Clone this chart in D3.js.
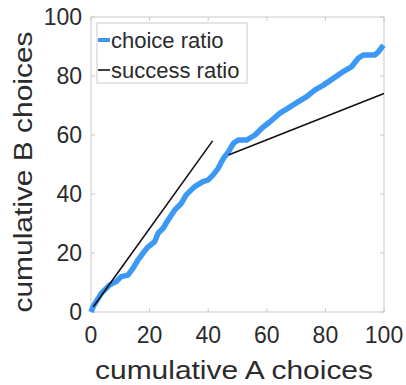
<!DOCTYPE html>
<html>
<head>
<meta charset="utf-8">
<script src="https://cdn.jsdelivr.net/npm/d3@7"></script>
<style>
  html, body { margin: 0; padding: 0; background: #fff; }
  svg { display: block; font-family: "Liberation Sans", Arial, sans-serif; }
</style>
</head>
<body>
<svg id="chart" width="406" height="385"></svg>
<script>
// cumulative A choices / cumulative B choices
const choiceA = [0, 0.7, 3.5, 6.4, 8.6, 10.3, 12.6, 14.3, 16, 17.7, 19.5, 21.7, 22.9, 24.6, 26.3, 28.6,
  30.8, 32.5, 35.4, 38.2, 39.9, 41.6, 43.4, 45.2, 46.9, 48.6, 50.3, 53.1, 56, 58.3, 61.1, 64.5, 67.3,
  70.8, 73.6, 76.5, 79.3, 82.7, 86.1, 89, 91.2, 92.9, 96.9, 98.1, 99.8];
const choiceB = [0, 1.8, 6.3, 9.2, 10.3, 12, 12.5, 14.8, 17.6, 19.9, 22.1, 23.8, 26.7, 28.4, 31.2, 34.6,
  36.8, 39.7, 42.5, 44.2, 44.7, 46.4, 48.7, 52.1, 54.3, 57.2, 58.3, 58.3, 60, 62.3, 64.5, 67.4, 69.1,
  71.3, 73, 75.3, 76.9, 79.2, 81.5, 83.2, 86, 87.1, 87.1, 88.2, 90.5];

// two fitted segments of the success ratio
const successSegments = [
  [[0.8, 1.8], [41.5, 58]],
  [[46.9, 53.2], [100, 74.1]]
];

const xTicks = [0, 20, 40, 60, 80, 100];
const yTicks = [0, 20, 40, 60, 80, 100];
const legendLabels = ["choice ratio", "success ratio"];

const BLUE = "#3b98f5";
const FRAME = "#c9c9c9";
const TEXT = "#2b2b2b";

const M = { left: 91, right: 22, top: 17, bottom: 73 };
const W = 406, H = 385;

const svg = d3.select("#chart");
const x = d3.scaleLinear().domain([0, 100]).range([M.left, W - M.right]);
const y = d3.scaleLinear().domain([0, 100]).range([H - M.bottom, M.top]);

// frame
svg.append("rect")
  .attr("x", x(0)).attr("y", y(100))
  .attr("width", x(100) - x(0)).attr("height", y(0) - y(100))
  .attr("fill", "#fff").attr("stroke", FRAME).attr("stroke-width", 1);

// inward ticks on all four sides
const tickLen = 4;
const tk = svg.append("g").attr("stroke", FRAME).attr("stroke-width", 1);
xTicks.forEach(t => {
  tk.append("line").attr("x1", x(t)).attr("x2", x(t)).attr("y1", y(0)).attr("y2", y(0) - tickLen);
  tk.append("line").attr("x1", x(t)).attr("x2", x(t)).attr("y1", y(100)).attr("y2", y(100) + tickLen);
});
yTicks.forEach(t => {
  tk.append("line").attr("y1", y(t)).attr("y2", y(t)).attr("x1", x(0)).attr("x2", x(0) + tickLen);
  tk.append("line").attr("y1", y(t)).attr("y2", y(t)).attr("x1", x(100)).attr("x2", x(100) - tickLen);
});

// tick labels
svg.append("g").selectAll("text").data(xTicks).join("text")
  .attr("x", d => x(d)).attr("y", y(0) + 31)
  .attr("text-anchor", "middle").attr("fill", TEXT).style("font-size", "23px")
  .text(d => d);
svg.append("g").selectAll("text").data(yTicks).join("text")
  .attr("x", x(0) - 9).attr("y", d => y(d) + 8)
  .attr("text-anchor", "end").attr("fill", TEXT).style("font-size", "23px")
  .text(d => d);

// axis titles
svg.append("text")
  .attr("x", 234).attr("y", 379)
  .attr("text-anchor", "middle").attr("fill", TEXT).style("font-size", "26px")
  .attr("textLength", 278).attr("lengthAdjust", "spacingAndGlyphs")
  .text("cumulative A choices");
svg.append("text")
  .attr("transform", "rotate(-90)")
  .attr("x", -172).attr("y", 32)
  .attr("text-anchor", "middle").attr("fill", TEXT).style("font-size", "26px")
  .attr("textLength", 281).attr("lengthAdjust", "spacingAndGlyphs")
  .text("cumulative B choices");

// choice ratio curve
const pts = choiceA.map((a, i) => [a, choiceB[i]]);
svg.append("path")
  .datum(pts)
  .attr("fill", "none").attr("stroke", BLUE).attr("stroke-width", 5.5)
  .attr("stroke-linejoin", "round")
  .attr("d", d3.line().x(d => x(d[0])).y(d => y(d[1])));

// success ratio segments
svg.append("g").selectAll("line").data(successSegments).join("line")
  .attr("x1", d => x(d[0][0])).attr("y1", d => y(d[0][1]))
  .attr("x2", d => x(d[1][0])).attr("y2", d => y(d[1][1]))
  .attr("stroke", "#111").attr("stroke-width", 1.6);

// legend
const lg = svg.append("g");
lg.append("rect").attr("x", 97).attr("y", 23).attr("width", 150).attr("height", 60)
  .attr("fill", "#fff").attr("stroke", FRAME).attr("stroke-width", 1);
const legendStyle = [{ color: BLUE, w: 4 }, { color: "#111", w: 1.6 }];
legendLabels.forEach((lab, i) => {
  const cy = 40 + i * 30;
  lg.append("line").attr("x1", 98).attr("x2", 110).attr("y1", cy).attr("y2", cy)
    .attr("stroke", legendStyle[i].color).attr("stroke-width", legendStyle[i].w);
  lg.append("text").attr("x", 111).attr("y", cy + 7.5)
    .attr("fill", TEXT).style("font-size", "22px").text(lab);
});
</script>
</body>
</html>
